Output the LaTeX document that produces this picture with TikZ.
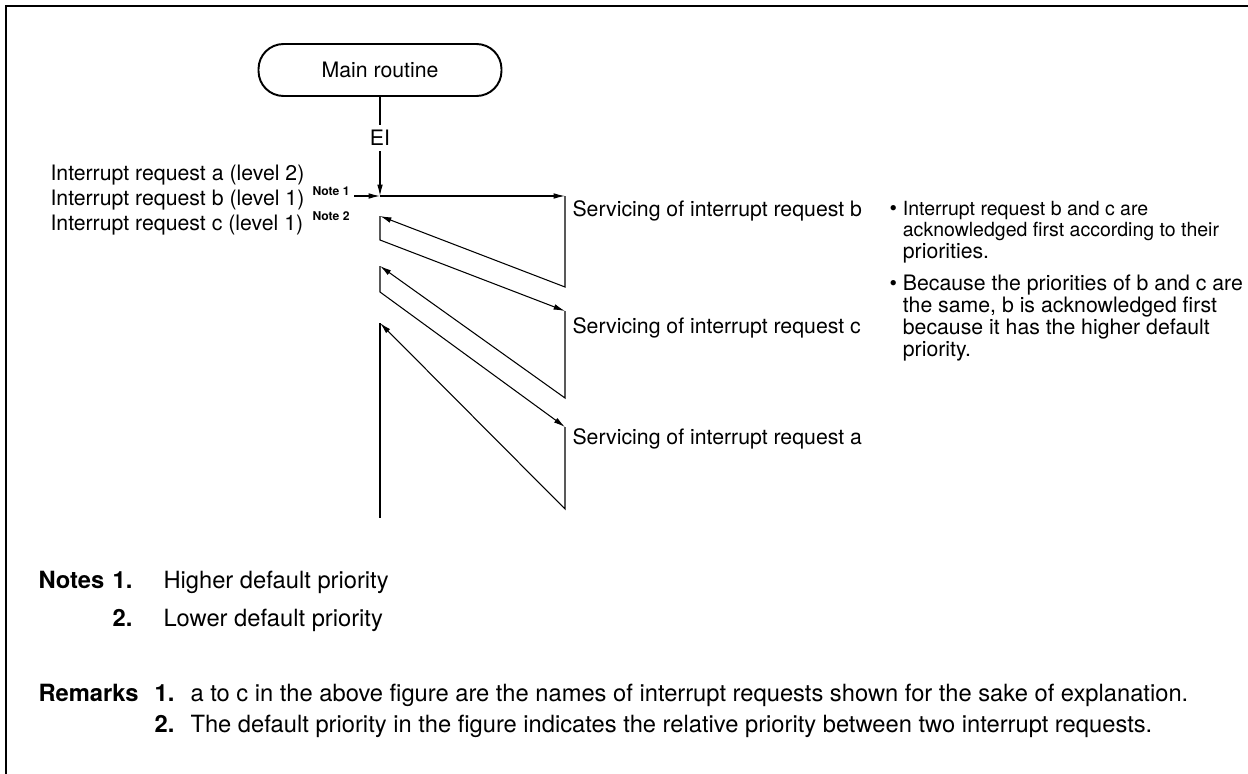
\documentclass[tikz,border=0pt]{standalone}
\usepackage{fontspec}
\setmainfont{TeX Gyre Heros}
\usetikzlibrary{arrows.meta}
\newcommand\bulsmall{\fontsize{11.1}{12.5}\selectfont}

\begin{document}
\begin{tikzpicture}[x=0.02cm, y=-0.02cm, >={Latex[length=6.5pt,width=3.2pt]},
    line width=0.6pt, every node/.style={inner sep=0pt},
    routine/.style={draw, line width=1.1pt, rounded corners=0.5cm, minimum width=4.86cm,
                    minimum height=1.04cm, font=\fontsize{12.1}{13.7}\selectfont},
    lbl/.style={font=\fontsize{12.1}{13.7}\selectfont, anchor=base west},
    notetag/.style={font=\fontsize{6.9}{8}\selectfont\bfseries, anchor=base west},
    bullets/.style={font=\fontsize{12.1}{12.5}\selectfont, anchor=base west},
    remk/.style={font=\fontsize{13.5}{16}\selectfont, anchor=base west},
    num/.style={font=\fontsize{13.5}{16}\selectfont\bfseries, anchor=base east}]

    \useasboundingbox (0,0) rectangle (1248,774);
    \draw[line width=1pt] (6,774) -- (6,6) -- (1248,6);

    \node[routine] (main) at (380,70) {Main routine};

    % zigzag of the servicing sequence
    \coordinate (p0) at (380,196);
    \coordinate (nb) at (354,196);
    \coordinate (b0) at (565,196);
    \coordinate (b1) at (565,287);
    \coordinate (r1) at (380,216);
    \coordinate (r2) at (380,240);
    \coordinate (c0) at (565,311);
    \coordinate (c1) at (565,398);
    \coordinate (r3) at (380,266);
    \coordinate (r4) at (380,292);
    \coordinate (a0) at (565,427);
    \coordinate (a1) at (565,509);
    \coordinate (r5) at (380,323);
    \coordinate (r6) at (380,518);

    \draw[->] (main) -- node[pos=0.41, fill=white, inner xsep=1pt, inner ysep=3pt,
        font=\fontsize{12.1}{13.7}\selectfont] (ei) {EI} (p0);
    \draw[->] (nb) -- (p0);
    \draw[->] (p0) -- (b0);
    \foreach \s/\t/\u in {b0/b1/r1, r1/r2/c0, c0/c1/r3, r3/r4/a0, a0/a1/r5}
        \draw[->] (\s) -- (\t) -- (\u);
    \draw (r5) -- (r6);

    \node[lbl] (reqa) at (50,180) {Interrupt request a (level 2)};
    \node[lbl] (reqb) at (50,205) {Interrupt request b (level 1)};
    \node[lbl] (reqc) at (50,230) {Interrupt request c (level 1)};
    \node[notetag] (note1) at (312,195) {Note 1};
    \node[notetag] (note2) at (312,220) {Note 2};

    \node[lbl] (srvb) at (572,216) {Servicing of interrupt request b};
    \node[lbl] (srvc) at (572,333) {Servicing of interrupt request c};
    \node[lbl] (srva) at (572,444) {Servicing of interrupt request a};

    \node[bullets] (why1) at (889,215) {\begin{tabular}[t]{@{}l@{\ }l@{}}
        \textbullet & {\bulsmall Interrupt request b and c are}\\
        & {\bulsmall acknowledged first according to their}\\
        & priorities.\end{tabular}};
    \node[bullets] (why2) at (889,290) {\begin{tabular}[t]{@{}l@{\ }l@{}}
        \textbullet & Because the priorities of b and c are\\
        & the same, b is acknowledged first\\
        & because it has the higher default\\
        & priority.\end{tabular}};

    % notes and remarks
    \node[remk] (notes) at (38,588) {\textbf{Notes}};
    \node[num] (n1) at (133,588) {1.};
    \node[remk] (n1t) at (163,588) {Higher default priority};
    \node[num] (n2) at (133,626) {2.};
    \node[remk] (n2t) at (163,626) {Lower default priority};

    \node[remk] (remarks) at (38,701) {\textbf{Remarks}};
    \node[num] (m1) at (175,701) {1.};
    \node[remk] (m1t) at (190,701) {a to c in the above figure are the names of interrupt requests shown for the sake of explanation.};
    \node[num] (m2) at (175,732) {2.};
    \node[remk] (m2t) at (190,732) {The default priority in the figure indicates the relative priority between two interrupt requests.};
\end{tikzpicture}
\end{document}
